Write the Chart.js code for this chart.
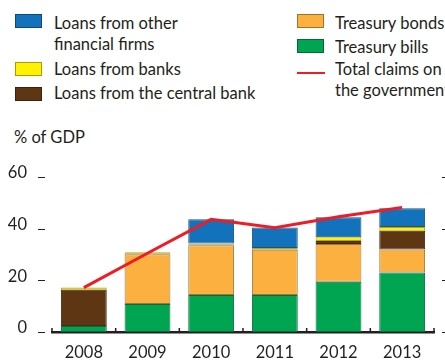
<!DOCTYPE html>
<html lang="en">
<head>
    <meta charset="UTF-8">
    <title>Claims on the government</title>
    <script src="https://cdn.jsdelivr.net/npm/chart.js"></script>
    <style>
        body {
            margin: 0;
            width: 445px;
            height: 360px;
            overflow: hidden;
            position: relative;
            background: #fff;
            font-family: Lato, "Open Sans", sans-serif;
            color: #231f20;
        }
        .sw {
            position: absolute;
            width: 27px;
            height: 14px;
            box-sizing: border-box;
            border: 1px solid rgba(0,0,0,0.35);
        }
        .lbl {
            position: absolute;
            font-size: 16.5px;
            line-height: 21px;
            white-space: nowrap;
        }
        #chartBox {
            position: absolute;
            left: 0;
            top: 0;
            width: 445px;
            height: 360px;
        }
    </style>
</head>
<body>
    <div class="sw" style="left:15px;top:14px;background:#1272bc"></div>
    <div class="lbl" style="left:54px;top:13px">Loans from other<br>financial firms</div>
    <div class="sw" style="left:15px;top:62px;background:#fff200"></div>
    <div class="lbl" style="left:54px;top:59px">Loans from banks</div>
    <div class="sw" style="left:15px;top:87px;background:#5e3613"></div>
    <div class="lbl" style="left:54px;top:83px">Loans from the central bank</div>

    <div class="sw" style="left:297px;top:14px;background:#fbb040"></div>
    <div class="lbl" style="left:335px;top:13px">Treasury bonds</div>
    <div class="sw" style="left:297px;top:39px;background:#00a551"></div>
    <div class="lbl" style="left:335px;top:37px">Treasury bills</div>
    <div style="position:absolute;left:297px;top:72px;width:28px;height:2px;background:#ee1c25"></div>
    <div class="lbl" style="left:335px;top:59px">Total claims on<br>the government</div>

    <div class="lbl" style="left:14px;top:127px">% of GDP</div>

    <div id="chartBox"><canvas id="claimsChart"></canvas></div>

    <script>
        const years = ['2008', '2009', '2010', '2011', '2012', '2013'];
        const treasuryBills = [2.3, 10.8, 14.3, 14.3, 19.5, 23.0];
        const treasuryBonds = [0, 19.3, 19.3, 17.5, 14.6, 8.9];
        const centralBankLoans = [14.1, 0.2, 0.3, 0.2, 1.1, 7.3];
        const bankLoans = [0.8, 0.6, 0.4, 0.5, 1.5, 1.4];
        const otherFinancialLoans = [0, 0, 9.3, 8.0, 7.7, 7.3];
        const totalClaims = [17.2, 30.5, 43.6, 40.4, 44.6, 48.2];
        const yTicks = [0, 20, 40, 60];

        const ink = '#231f20';

        function barSet(label, values, fill, edge) {
            return {
                type: 'bar',
                label: label,
                data: values,
                backgroundColor: fill,
                borderColor: edge,
                borderWidth: 1,
                borderSkipped: false,
                stack: 'bars',
                order: 1,
                barPercentage: 0.72,
                categoryPercentage: 1
            };
        }

        // dashes next to the y labels, and the small up-ticks on the x axis
        const axisMarks = {
            id: 'axisMarks',
            afterDraw(chart) {
                const c = chart.ctx;
                const y = chart.scales.y;
                const x = chart.scales.x;
                c.save();
                c.strokeStyle = ink;
                c.lineWidth = 1.2;
                yTicks.forEach(v => {
                    const py = Math.round(y.getPixelForValue(v)) + 0.5;
                    c.beginPath();
                    c.moveTo(38, py);
                    c.lineTo(45, py);
                    c.moveTo(442, py);
                    c.lineTo(449, py);
                    c.stroke();
                });
                const base = y.getPixelForValue(0);
                c.lineWidth = 1.5;
                for (let i = 0; i <= years.length; i++) {
                    const px = x.left + (x.right - x.left) * i / years.length;
                    c.beginPath();
                    c.moveTo(px, base);
                    c.lineTo(px, base - 4);
                    c.stroke();
                }
                c.restore();
            }
        };

        new Chart(document.getElementById('claimsChart'), {
            data: {
                labels: years,
                datasets: [
                    barSet('Treasury bills', treasuryBills, '#00a551', '#0b6b3a'),
                    barSet('Treasury bonds', treasuryBonds, '#fbb040', '#9a7a40'),
                    barSet('Loans from the central bank', centralBankLoans, '#5e3613', '#4a2a10'),
                    barSet('Loans from banks', bankLoans, '#fff200', '#b8a800'),
                    barSet('Loans from other financial firms', otherFinancialLoans, '#1272bc', '#1b5580'),
                    {
                        type: 'line',
                        label: 'Total claims on the government',
                        data: totalClaims,
                        borderColor: '#ee1c25',
                        borderWidth: 3,
                        pointRadius: 0,
                        tension: 0,
                        fill: false,
                        stack: 'total',
                        order: 0
                    }
                ]
            },
            options: {
                responsive: true,
                maintainAspectRatio: false,
                animation: false,
                layout: {
                    padding: { top: 177, right: 11, left: 0, bottom: 0 }
                },
                scales: {
                    x: {
                        stacked: true,
                        grid: { display: false },
                        border: { display: true, color: ink, width: 2.5 },
                        ticks: {
                            color: ink,
                            padding: 3,
                            font: { family: 'Lato', size: 16.5 }
                        },
                        afterFit(scale) { scale.height = 28; }
                    },
                    y: {
                        stacked: true,
                        min: 0,
                        max: 60,
                        grid: { display: false },
                        border: { display: false },
                        afterBuildTicks(scale) {
                            scale.ticks = yTicks.map(v => ({ value: v }));
                        },
                        ticks: {
                            color: ink,
                            padding: 17,
                            labelOffset: -4,
                            font: { family: 'Lato', size: 16.5 }
                        },
                        afterFit(scale) { scale.width = 52; }
                    }
                },
                plugins: {
                    legend: { display: false },
                    tooltip: { enabled: false }
                }
            },
            plugins: [axisMarks]
        });
    </script>
</body>
</html>
